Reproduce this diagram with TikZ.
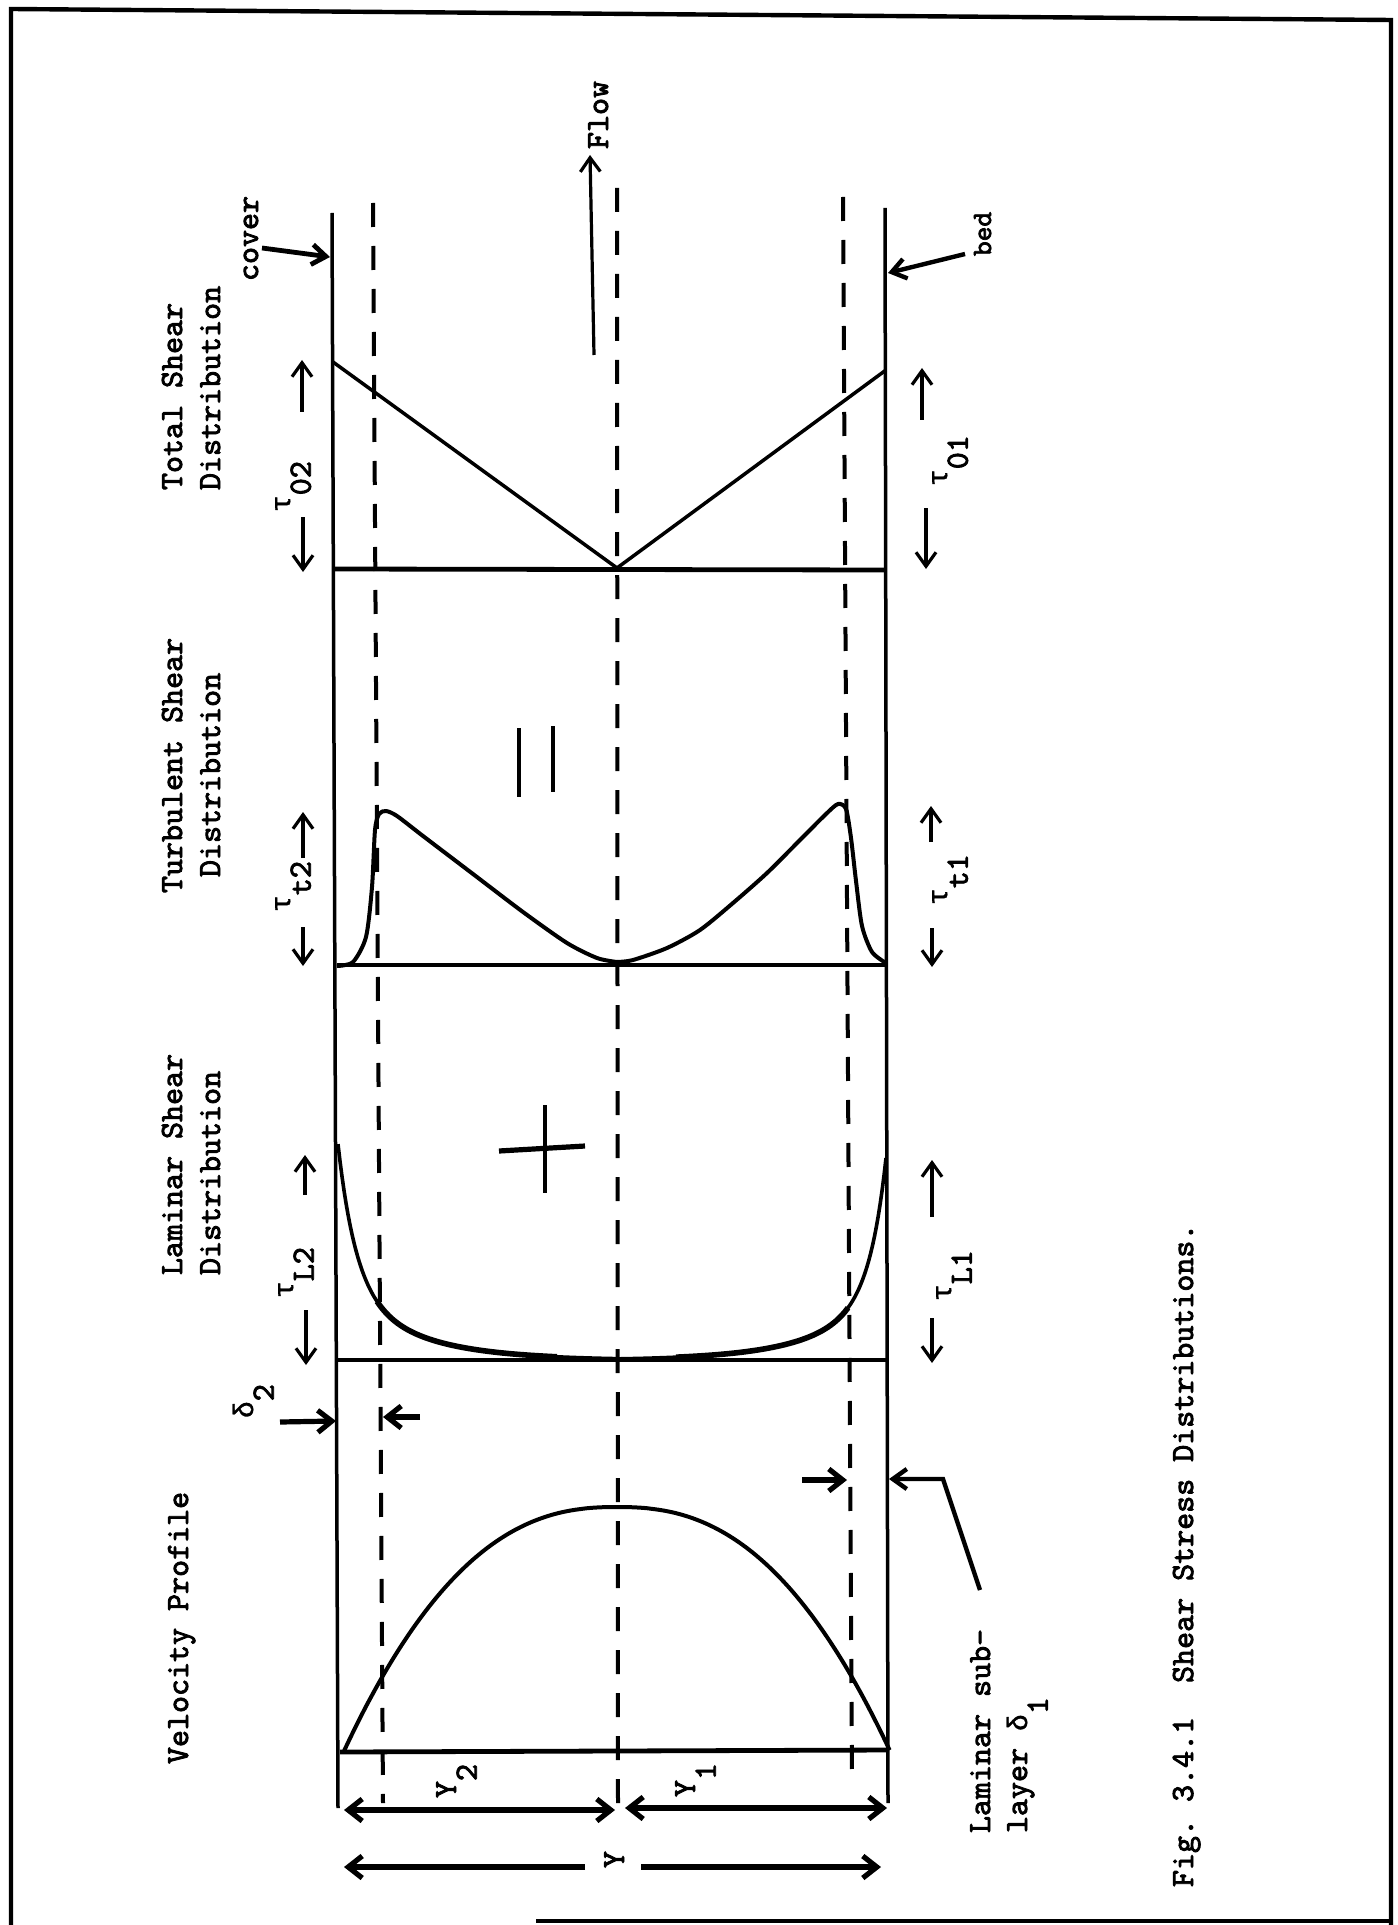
\documentclass[tikz,border=0pt]{standalone}
\usepackage{fontspec}
\usetikzlibrary{arrows.meta}
\newfontfamily\tw{lmmono10-regular.otf}[FakeBold=2.6]
\newfontfamily\gk{Liberation Mono}[FakeBold=1.2]
\newcommand{\twf}{\tw\fontsize{16.2pt}{19pt}\selectfont}
\newcommand{\twsm}{\tw\fontsize{14pt}{16pt}\selectfont}
\newcommand{\lowr}[1]{\raisebox{-0.64em}{#1}}
\newcommand{\gtau}{{\gk\fontsize{14pt}{16pt}\selectfont τ}}
\newcommand{\gdel}{{\gk\fontsize{14pt}{16pt}\selectfont δ}}
\begin{document}
\begin{tikzpicture}[x=0.5pt,y=-0.5pt,
  ln/.style={line width=1.75pt},
  basel/.style={line width=2.4pt},
  crv/.style={line width=2pt, line join=round},
  dsh/.style={line width=2pt, dash pattern=on 12pt off 9.5pt},
  arr/.style={line width=1.6pt, -{Straight Barb[length=7pt,width=10pt]}},
  barr/.style={line width=2.6pt, -{Straight Barb[length=7pt,width=11pt]}},
  dbarr/.style={line width=2.6pt, {Straight Barb[length=7pt,width=11pt]}-{Straight Barb[length=7pt,width=11pt]}},
  txt/.style={rotate=90, anchor=base west, inner sep=0pt, outer sep=0pt, font=\twf},
  stxt/.style={rotate=90, anchor=base west, inner sep=0pt, outer sep=0pt, font=\twsm}]
\useasboundingbox (0,0) rectangle (1397,1925);
\fill[white] (0,0) rectangle (1397,1925);

% frame
\coordinate (fTL) at (11,9); \coordinate (fTR) at (1391,20);
\coordinate (fBL) at (11,1925); \coordinate (fBR) at (1391,1925);
\coordinate (fB0) at (536,1921); \coordinate (fB1) at (1391,1921);
\draw[line width=2.2pt] (fBL) -- (fTL) -- (fTR) -- (fBR);
\draw[line width=1.6pt] (fB0) -- (fB1);

% walls
\coordinate (cvT) at (332,213); \coordinate (cvB) at (338,1808);
\coordinate (bdT) at (885,208); \coordinate (bdB) at (888,1803);
\draw[ln] (cvT) -- (cvB);
\draw[ln] (bdT) -- (bdB);

% dashed lines
\coordinate (d2T) at (373,203); \coordinate (d2B) at (383,1803);
\coordinate (dcT) at (617,188); \coordinate (dcB) at (618,1815);
\coordinate (d1T) at (843,197); \coordinate (d1B) at (852,1780);
\draw[dsh] (d2T) -- (d2B);
\draw[dsh] (dcT) -- (dcB);
\draw[dsh] (d1T) -- (d1B);

% flow
\coordinate (flT) at (594,355); \coordinate (flH) at (590,155);
\draw[arr] (flT) -- (flH);
\node[txt] (flow) at (608,149) {Flow};

% cover / bed
\node[txt] (cover) at (258,281) {cover};
\coordinate (cvA0) at (262,248); \coordinate (cvA1) at (330,257);
\draw[line width=2.4pt, -{Straight Barb[length=7pt,width=10pt]}] (cvA0) -- (cvA1);
\node[stxt] (bed) at (991,256) {bed};
\coordinate (bdA0) at (965,254); \coordinate (bdA1) at (888,273);
\draw[line width=2.2pt, -{Straight Barb[length=7pt,width=10pt]}] (bdA0) -- (bdA1);

% ---------- Total shear
\node[txt] (ts1) at (182,490) {Total Shear};
\node[txt] (ts2) at (220,490) {Distribution};
\coordinate (tsL) at (333,362); \coordinate (tsC) at (617,568); \coordinate (tsR) at (886,370);
\draw[ln] (tsL) -- (tsC) -- (tsR);
\coordinate (tbL) at (335,569); \coordinate (tbR) at (886,570);
\draw[basel] (tbL) -- (tbR);
\node[txt] (t02) at (290,512) {\gtau\lowr{02}};
\node[txt] (t01) at (947,486) {\gtau\lowr{01}};
\draw[arr] (302,412) coordinate (a1) -- (302,360) coordinate (a2);
\draw[arr] (303,517) coordinate (a3) -- (303,572) coordinate (a4);
\draw[arr] (922,420) coordinate (a5) -- (922,368) coordinate (a6);
\draw[arr] (926,508) coordinate (a7) -- (926,569) coordinate (a8);

% ---------- Turbulent shear
\node[txt] (tu1) at (182,893) {Turbulent Shear};
\node[txt] (tu2) at (220,877) {Distribution};
\coordinate (ubL) at (337,965); \coordinate (ubR) at (886,965);
\draw[basel] (ubL) -- (ubR);
\draw[crv] plot[smooth, tension=0.45] coordinates {(337,966) (353,962) (366,937) (372,887) (375,830) (379,814) (386,811) (397,816) (423,836) (473,874) (523,912) (567,943) (597,958) (617,962)};
\draw[crv] plot[smooth, tension=0.45] coordinates {(617,962) (633,960) (667,948) (700,930) (733,903) (767,873) (800,840) (826,814) (838,804) (846,809) (851,838) (856,881) (862,926) (872,952) (886,963)};
\node[txt] (tt2) at (290,912) {\gtau\lowr{t2}};
\node[txt] (tt1) at (947,905) {\gtau\lowr{t1}};
\draw[arr] (303,858) coordinate (b1) -- (303,812) coordinate (b2);
\draw[arr] (303,927) coordinate (b3) -- (303,966) coordinate (b4);
\draw[arr] (931,842) coordinate (b5) -- (931,806) coordinate (b6);
\draw[arr] (932,928) coordinate (b7) -- (932,967) coordinate (b8);
% equals
\coordinate (e1a) at (519,728); \coordinate (e1b) at (519,797);
\coordinate (e2a) at (553,726); \coordinate (e2b) at (553,792);
\draw[ln] (e1a) -- (e1b);
\draw[ln] (e2a) -- (e2b);

% ---------- Laminar shear
\node[txt] (la1) at (182,1275) {Laminar Shear};
\node[txt] (la2) at (220,1275) {Distribution};
\coordinate (lbL) at (337,1360); \coordinate (lbR) at (887,1360);
\draw[basel] (lbL) -- (lbR);
\draw[crv, line width=1.8pt] plot[domain=1:280, samples=140] ({337+\x}, {1360-150*exp(-\x/18)-75*exp(-\x/70)});
\draw[crv, line width=2.8pt] plot[domain=40:220, samples=60] ({337+\x}, {1360-150*exp(-\x/18)-75*exp(-\x/70)});
\draw[crv, line width=1.8pt] plot[domain=0:269, samples=140] ({886-\x}, {1360-130*exp(-\x/16)-72*exp(-\x/65)});
\draw[crv, line width=2.8pt] plot[domain=38:210, samples=60] ({886-\x}, {1360-130*exp(-\x/16)-72*exp(-\x/65)});
\node[txt] (tl2) at (293,1298) {\gtau\lowr{L2}};
\node[txt] (tl1) at (951,1301) {\gtau\lowr{L1}};
\draw[arr] (305,1195) coordinate (c1) -- (305,1155) coordinate (c2);
\draw[arr] (306,1310) coordinate (c3) -- (306,1365) coordinate (c4);
\draw[arr] (932,1217) coordinate (c5) -- (932,1160) coordinate (c6);
\draw[arr] (932,1318) coordinate (c7) -- (932,1363) coordinate (c8);
% plus
\coordinate (p1a) at (545,1105); \coordinate (p1b) at (545,1193);
\coordinate (p2a) at (499,1151); \coordinate (p2b) at (585,1146);
\draw[ln] (p1a) -- (p1b);
\draw[line width=2.6pt] (p2a) -- (p2b);

% ---------- Velocity profile
\node[txt] (vp) at (188,1764) {Velocity Profile};
\coordinate (vbL) at (340,1752); \coordinate (vbR) at (888,1750);
\draw[basel] (vbL) -- (vbR);
\draw[crv] plot[domain=-1:1, samples=100, smooth] ({617+273*\x}, {1751-244*(1-abs(\x)^2.4)});

% delta 2
\node[txt] (del2) at (253,1418) {\gdel\lowr{2}};
\coordinate (g1) at (280,1422); \coordinate (g2) at (336,1421);
\coordinate (g3) at (420,1417); \coordinate (g4) at (383,1417);
\draw[barr] (g1) -- (g2);
\draw[barr] (g3) -- (g4);

% delta 1
\coordinate (h1) at (802,1480); \coordinate (h2) at (847,1480);
\draw[barr] (h1) -- (h2);
\coordinate (h3) at (980,1590); \coordinate (h4) at (943,1479); \coordinate (h5) at (889,1479);
\draw[line width=2.2pt, -{Straight Barb[length=7pt,width=10pt]}] (h3) -- (h4) -- (h5);
\node[txt] (ls1) at (990,1833) {Laminar sub-};
\node[txt] (ls2) at (1027,1833) {layer \gdel\lowr{1}};

% dimensions
\coordinate (y2a) at (344,1810); \coordinate (y2b) at (615,1810);
\coordinate (y1a) at (625,1808); \coordinate (y1b) at (887,1808);
\draw[dbarr] (y2a) -- (y2b);
\draw[dbarr] (y1a) -- (y1b);
\node[txt] (Y2) at (456,1798) {Y\lowr{2}};
\node[txt] (Y1) at (695,1797) {Y\lowr{1}};
\node[txt] (Yt) at (624,1868) {Y};
\coordinate (ya0) at (585,1867); \coordinate (ya1) at (344,1867);
\coordinate (yb0) at (641,1867); \coordinate (yb1) at (881,1867);
\draw[barr] (ya0) -- (ya1);
\draw[barr] (yb0) -- (yb1);

% caption
\node[txt] (cap) at (1193,1887) {Fig.\ 3.4.1\ \ Shear\ Stress\ Distributions.};
\end{tikzpicture}
\end{document}
